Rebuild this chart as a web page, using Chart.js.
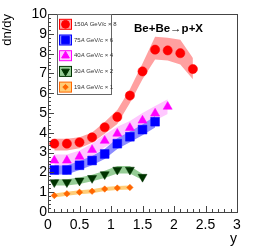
<!DOCTYPE html>
<html>
<head>
<meta charset="utf-8">
<script src="https://cdn.jsdelivr.net/npm/chart.js@4"></script>
<style>
  html, body { margin: 0; padding: 0; background: #fff; }
  #wrap { width: 269px; height: 252px; }
</style>
</head>
<body>
<div id="wrap"><canvas id="myChart"></canvas></div>
<script>
// rapidity bin centres
const yBins = [0.1, 0.3, 0.5, 0.7, 0.9, 1.1, 1.3, 1.5, 1.7, 1.9, 2.1, 2.3];

// 150A GeV/c x 8
const p150 = [3.45, 3.45, 3.52, 3.77, 4.28, 4.8, 5.88, 7.1, 8.2, 8.16, 8.02, 7.22];
const p150Hi = [3.7, 3.7, 3.78, 4.02, 4.55, 5.15, 6.2, 7.5, 8.85, 8.8, 8.7, 7.78];
const p150Lo = [3.1, 3.1, 3.22, 3.5, 3.95, 4.45, 5.5, 6.7, 7.7, 7.65, 7.45, 6.7];

// 75A GeV/c x 6
const p75 = [2.12, 2.12, 2.36, 2.6, 2.93, 3.45, 3.8, 4.16, 4.56];
const p75Hi = [2.35, 2.35, 2.58, 2.83, 3.18, 3.72, 4.07, 4.42, 4.85];
const p75Lo = [1.9, 1.9, 2.12, 2.36, 2.68, 3.18, 3.52, 3.88, 4.27];

// 40A GeV/c x 4
const p40 = [2.6, 2.6, 2.8, 3.14, 3.6, 3.96, 4.25, 4.62, 4.98, 5.32];
const p40Hi = [2.9, 2.9, 3.1, 3.45, 3.92, 4.3, 4.6, 5.0, 5.35, 5.7];
const p40Lo = [2.3, 2.3, 2.5, 2.82, 3.27, 3.62, 3.92, 4.25, 4.62, 4.95];

// 30A GeV/c x 2
const p30 = [1.5, 1.5, 1.58, 1.71, 1.9, 2.13, 2.13, 1.77];
const p30Hi = [1.66, 1.66, 1.74, 1.88, 2.08, 2.32, 2.32, 1.92];
const p30Lo = [1.34, 1.34, 1.42, 1.55, 1.72, 1.94, 1.94, 1.62];

// 19A GeV/c x 1
const p19 = [0.83, 0.92, 1.0, 1.05, 1.16, 1.21, 1.24];
const p19Hi = [0.93, 1.02, 1.1, 1.15, 1.26, 1.31, 1.34];
const p19Lo = [0.73, 0.82, 0.9, 0.95, 1.06, 1.11, 1.14];

const legendLabels = [
  ['150', ' GeV/c × 8'],
  ['75', ' GeV/c × 6'],
  ['40', ' GeV/c × 4'],
  ['30', ' GeV/c × 2'],
  ['19', ' GeV/c × 1']
];

const xTicks = [0, 0.5, 1, 1.5, 2, 2.5, 3];
const yTicks = [0, 1, 2, 3, 4, 5, 6, 7, 8, 9, 10];

const series = [
  { vals: p150, hi: p150Hi, lo: p150Lo, mark: '#ff0000', band: 'rgb(255,160,160)', style: 'circle', r: 4.6, rot: 0 },
  { vals: p75, hi: p75Hi, lo: p75Lo, mark: '#0000ff', band: 'rgb(140,140,255)', style: 'rect', r: 6.2, rot: 0 },
  { vals: p40, hi: p40Hi, lo: p40Lo, mark: '#ff00ff', band: 'rgb(255,200,255)', style: 'triangle', r: 5.2, rot: 0 },
  { vals: p30, hi: p30Hi, lo: p30Lo, mark: '#003300', band: 'rgb(150,205,150)', style: 'triangle', r: 5.2, rot: 180 },
  { vals: p19, hi: p19Hi, lo: p19Lo, mark: '#ff6600', band: 'rgb(255,205,120)', style: 'rectRot', r: 3.2, rot: 0 }
];

const xy = (vals) => vals.map((v, i) => ({ x: yBins[i], y: v }));

const datasets = [];
series.forEach((s) => {
  datasets.push({
    data: xy(s.vals), showLine: false, pointStyle: s.style, pointRadius: s.r,
    pointRotation: s.rot, backgroundColor: s.mark, borderColor: s.mark,
    borderWidth: 0.5, order: 0
  });
});
series.forEach((s, k) => {
  datasets.push({
    data: xy(s.hi), showLine: true, pointRadius: 0, borderWidth: 0,
    borderColor: 'transparent', fill: false, order: 10 + k, tension: 0
  });
  datasets.push({
    data: xy(s.lo), showLine: true, pointRadius: 0, borderWidth: 0,
    borderColor: 'transparent', backgroundColor: s.band, fill: '-1',
    order: 10 + k, tension: 0
  });
});

const rootFrame = {
  id: 'rootFrame',
  afterDraw(chart) {
    const { ctx, chartArea: a, scales: { x, y } } = chart;
    ctx.save();
    ctx.strokeStyle = '#444';
    ctx.lineWidth = 1;
    ctx.strokeRect(a.left + 0.5, a.top + 0.5, a.right - a.left, a.bottom - a.top);
    ctx.beginPath();
    for (let i = 0; i <= 30; i++) {
      const px = Math.round(x.getPixelForValue(i / 10)) + 0.5;
      const len = i % 5 === 0 ? 6 : 3;
      ctx.moveTo(px, a.bottom);
      ctx.lineTo(px, a.bottom - len);
    }
    for (let i = 0; i <= 50; i++) {
      const py = Math.round(y.getPixelForValue(i / 5)) + 0.5;
      const len = i % 5 === 0 ? 6 : 3;
      ctx.moveTo(a.left, py);
      ctx.lineTo(a.left + len, py);
    }
    ctx.stroke();

    // title
    ctx.fillStyle = '#000';
    ctx.font = 'bold 11.5px "Liberation Sans", Arial, sans-serif';
    ctx.textBaseline = 'middle';
    ctx.textAlign = 'left';
    ctx.fillText('Be+Be\u2192p+X', 134, 29);

    // legend
    const lx = 57, ly = 14, lw = 54, lh = 80;
    ctx.fillStyle = '#fff';
    ctx.fillRect(lx, ly, lw, lh);
    ctx.strokeStyle = '#666';
    ctx.lineWidth = 1;
    ctx.strokeRect(lx + 0.5, ly + 0.5, lw, lh);
    series.forEach((s, k) => {
      const cy = 24.3 + k * 15.7;
      ctx.fillStyle = s.band;
      ctx.fillRect(59.5, cy - 5, 12, 10);
      ctx.strokeStyle = s.mark;
      ctx.lineWidth = 1;
      ctx.strokeRect(59.5, cy - 5, 12, 10);
      ctx.fillStyle = s.mark;
      ctx.strokeStyle = s.mark;
      Chart.helpers.drawPoint(ctx, {
        pointStyle: s.style, radius: s.r * 0.85, rotation: s.rot, borderWidth: 0.5
      }, 65.5, cy);
      const [num, rest] = legendLabels[k];
      ctx.fillStyle = '#333';
      ctx.textAlign = 'left';
      ctx.textBaseline = 'middle';
      let tx = 74;
      ctx.font = '6px "Liberation Sans", Arial, sans-serif';
      ctx.fillText(num, tx, cy);
      tx += ctx.measureText(num).width;
      ctx.font = 'italic 6px "Liberation Sans", Arial, sans-serif';
      ctx.fillText('A', tx, cy);
      tx += ctx.measureText('A').width;
      ctx.font = '6px "Liberation Sans", Arial, sans-serif';
      ctx.fillText(rest, tx, cy);
    });
    ctx.restore();
  }
};

const tickFont = { family: '"Liberation Sans", Arial, sans-serif', size: 14 };

new Chart(document.getElementById('myChart'), {
  type: 'scatter',
  data: { datasets },
  options: {
    responsive: true,
    maintainAspectRatio: false,
    animation: false,
    layout: { padding: { top: 14, right: 32, left: 0, bottom: 0 } },
    plugins: {
      legend: { display: false },
      tooltip: { enabled: false },
      filler: { propagate: false }
    },
    scales: {
      x: {
        type: 'linear', min: 0, max: 3,
        afterBuildTicks: (s) => { s.ticks = xTicks.map(v => ({ value: v })); },
        afterFit: (s) => { s.height = 40; },
        grid: { display: false, drawTicks: false }, border: { display: false },
        ticks: { font: tickFont, color: '#000', padding: 5, maxRotation: 0, callback: (v) => String(v) },
        title: { display: true, text: 'y', align: 'end', color: '#000', font: tickFont, padding: { top: 4 } }
      },
      y: {
        type: 'linear', min: 0, max: 10,
        afterBuildTicks: (s) => { s.ticks = yTicks.map(v => ({ value: v })); },
        afterFit: (s) => { s.width = 48; },
        grid: { display: false, drawTicks: false }, border: { display: false },
        ticks: { font: tickFont, color: '#000', padding: 1, callback: (v) => String(v) },
        title: { display: true, text: 'dn/dy', align: 'end', color: '#000', font: { family: '"Liberation Sans", Arial, sans-serif', size: 13 }, padding: { bottom: 0, top: 0 } }
      }
    }
  },
  plugins: [rootFrame]
});
</script>
</body>
</html>
